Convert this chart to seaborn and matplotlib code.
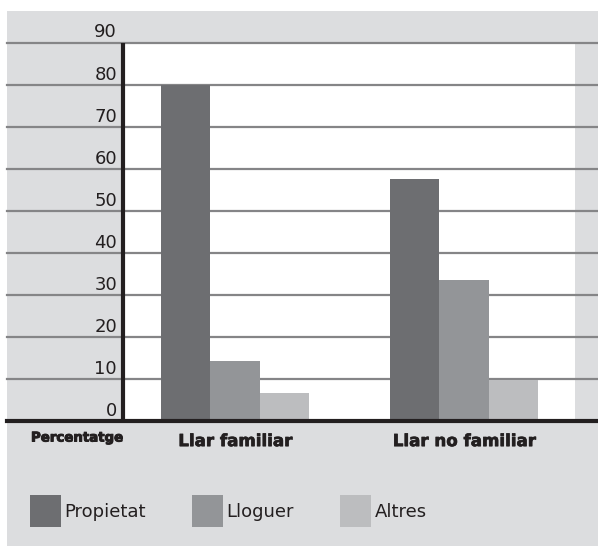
import matplotlib
matplotlib.use("Agg")
import matplotlib.pyplot as plt
import seaborn as sns
import pandas as pd
from matplotlib.patches import Rectangle
import matplotlib.transforms as mtransforms
import matplotlib.patheffects as pe

categories = ["Llar familiar", "Llar no familiar"]
series = ["Propietat", "Lloguer", "Altres"]
propietat = [80.0, 57.6]
lloguer = [14.3, 33.6]
altres = [6.7, 9.7]
yticks = [0, 10, 20, 30, 40, 50, 60, 70, 80, 90]
colors = ["#6d6e71", "#939598", "#bcbdbf"]

rows = []
for i, c in enumerate(categories):
    for s, vals in zip(series, [propietat, lloguer, altres]):
        rows.append({"cat": c, "serie": s, "val": vals[i]})
df = pd.DataFrame(rows)

W, H = 598, 547
fig = plt.figure(figsize=(W / 100, H / 100), dpi=100, facecolor="white")
bg = "#dcdddf"
fig.patches.append(Rectangle((7 / W, 1 - 546 / H), (598 - 7) / W, (546 - 11) / H,
                             transform=fig.transFigure, facecolor=bg, edgecolor="none", zorder=-10))

ax_left, ax_right = 7, 598
ax_top, ax_bot = 42.7, 421
ax = fig.add_axes([ax_left / W, 1 - ax_bot / H, (ax_right - ax_left) / W, (ax_bot - ax_top) / H])
ax.set_facecolor("none")

# pixel mapping: category 0 at 235 px, 1 unit = 229 px
c0, unit = 235.0, 229.0
px = lambda p: (p - c0) / unit
ax.set_xlim(px(ax_left), px(ax_right))
ax.set_ylim(0, 90)

# white plot area
ax.axvspan(px(122), px(575), color="white", zorder=0, lw=0)

sns.barplot(data=df, x="cat", y="val", hue="serie", hue_order=series, order=categories,
            palette=colors, width=0.648, saturation=1, ax=ax, zorder=3, edgecolor="none", linewidth=0)
handles, labels = ax.get_legend_handles_labels()
if ax.get_legend() is not None:
    ax.get_legend().remove()
ax.set_xlim(px(ax_left), px(ax_right))

for t in yticks[1:]:
    ax.axhline(t, color="#858587", lw=1.6, zorder=1, clip_on=False)
ax.axhline(0, color="#231f20", lw=3, zorder=5, clip_on=False)
ax.plot([px(122.5), px(122.5)], [0, 90], color="#231f20", lw=3, zorder=5, solid_capstyle="butt")

for sp in ax.spines.values():
    sp.set_visible(False)

ax.set_xlabel("")
ax.set_ylabel("")
ax.set_yticks(yticks)
ax.set_yticklabels([str(t) for t in yticks], fontsize=13, color="#231f20", family="DejaVu Sans")
ax.tick_params(axis="y", length=0, pad=-(117 - ax_left) * 0.72)
offset = mtransforms.ScaledTranslation(0, 1.2 / 100, fig.dpi_scale_trans)
for lab in ax.get_yticklabels():
    lab.set_horizontalalignment("right")
    lab.set_verticalalignment("bottom")
    lab.set_transform(lab.get_transform() + offset)

ax.set_xticks([0, 1])
ax.set_xticklabels(categories, fontsize=12, fontweight="bold", color="#231f20", family="DejaVu Sans")
ax.tick_params(axis="x", length=0, pad=8)
for lab in ax.get_xticklabels():
    lab.set_path_effects([pe.withStroke(linewidth=0.5, foreground="#231f20")])

fig.text(31 / W, 1 - 438 / H, "Percentatge", fontsize=9.6, fontweight="heavy",
         color="#231f20", va="center", ha="left", family="DejaVu Sans",
         path_effects=[pe.withStroke(linewidth=0.7, foreground="#231f20")])

leg = fig.legend(handles, labels, loc="center left", bbox_to_anchor=(30 / W, 1 - 511 / H),
                 ncol=3, frameon=False, handlelength=1.72, handleheight=2.27,
                 handletextpad=0.17, columnspacing=2.58, borderaxespad=0, borderpad=0,
                 prop={"family": "DejaVu Sans", "size": 13})
for t in leg.get_texts():
    t.set_color("#231f20")

fig.savefig("out.png", dpi=100, facecolor="white")
